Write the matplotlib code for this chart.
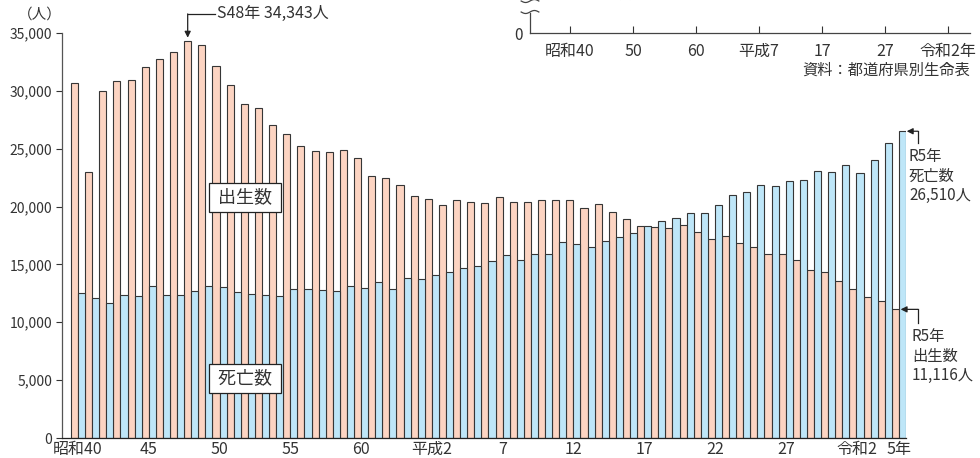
import matplotlib
matplotlib.use("Agg")
import matplotlib.pyplot as plt
import numpy as np

plt.rcParams['font.family'] = ['Noto Sans CJK JP', 'DejaVu Sans']

# 昭和40年(1965)〜令和5年(2023)
years = list(range(1965, 2024))
births = [30660, 22960, 29970, 30830, 30970, 32040, 32760, 33360, 34343, 33940,
          32150, 30540, 28900, 28520, 27080, 26300, 25260, 24800, 24720,
          24890, 24170, 22620, 22500, 21890, 20940, 20660, 20110, 20600, 20400,
          20310, 20830, 20400, 20420, 20540, 20570, 20570, 19900, 20250, 19530,
          18950, 18350, 18210,
          18120, 18410, 17780, 17230, 17490, 16880, 16510, 15880, 15880, 15410,
          14520, 14370, 13570, 12850, 12160, 11840, 11116]
deaths = [12560, 12070, 11700, 12360, 12300, 13110, 12330, 12390, 12680, 13110,
          13020, 12590, 12470, 12360, 12270, 12900, 12880, 12770,
          12710, 13110, 13000, 13470, 12880, 13830, 13770, 14060, 14370, 14720,
          14890, 15320, 15790, 15360, 15930, 15880, 16910, 16740, 16480, 17030,
          17350, 17720, 18300, 18790,
          18990, 19470, 19420, 20160, 21000, 21240, 21890, 21810, 22190, 22270,
          23050, 22960, 23600, 22880, 24000, 25520, 26510]

tick_years = [1965, 1970, 1975, 1980, 1985, 1990, 1995, 2000, 2005, 2010, 2015, 2020, 2023]
tick_labels = ['昭和40', '45', '50', '55', '60', '平成2', '7', '12', '17', '22', '27', '令和2', '5年']

inset_labels = ['昭和40', '50', '60', '平成7', '17', '27', '令和2年']

PINK = '#fcd4c2'
BLUE = '#bee6f8'
EDGE = '#363636'
TXT = '#333333'

fig = plt.figure(figsize=(9.8, 4.58), dpi=100)
W, H = 980, 458
ax = fig.add_axes([62 / W, 20 / H, (906 - 62) / W, (438 - 33) / H])

x = np.array(years)
ax.bar(x - 0.25, births, width=0.5, color=PINK, edgecolor=EDGE, linewidth=0.8, zorder=2)
ax.bar(x + 0.25, deaths, width=0.5, color=BLUE, edgecolor=EDGE, linewidth=0.8, zorder=2)

ax.set_xlim(1965 - 1.13, 2023.5)
ax.set_ylim(0, 35000)
ax.set_yticks(range(0, 35001, 5000))
ax.set_yticklabels([f'{v:,}' for v in range(0, 35001, 5000)])
ax.set_xticks(tick_years)
ax.set_xticklabels(tick_labels)
ax.tick_params(axis='y', direction='out', length=4, width=0.8, colors=TXT,
               labelsize=10, pad=3)
ax.tick_params(axis='x', length=0, labelsize=11.5, colors=TXT, pad=2)
for s in ['top', 'right']:
    ax.spines[s].set_visible(False)
ax.spines['left'].set_color('#555555')
ax.spines['bottom'].set_color('#222222')
ax.spines['left'].set_linewidth(0.9)
ax.spines['bottom'].set_linewidth(0.9)

fig.text(18 / W, 1 - 15 / H, '（人）', fontsize=10.5, color=TXT, va='center', ha='left')

# series labels
box = dict(boxstyle='square,pad=0.3', facecolor='white', edgecolor='#222222', linewidth=0.9)
ax.text(1976.8, 20780, ' 出生数 ', fontsize=13, color=TXT, ha='center', va='center',
        bbox=box, zorder=5)
ax.text(1976.8, 5150, ' 死亡数 ', fontsize=13, color=TXT, ha='center', va='center',
        bbox=box, zorder=5)

arrow = dict(arrowstyle='-|>', color='#222222', lw=0.9, mutation_scale=9,
             shrinkA=0, shrinkB=0)

# S48 peak
peak = births[years.index(1973)]
ax.annotate('', xy=(1972.75, peak + 250), xytext=(1972.75, 36650),
            arrowprops=arrow, annotation_clip=False)
ax.plot([1972.75, 1974.69], [36650, 36650], color='#222222', lw=0.9, clip_on=False)
ax.text(1974.85, 36650, f'S48年 {peak:,}人', fontsize=11.5, color=TXT,
        ha='left', va='center', clip_on=False)

# R5 deaths
d5 = deaths[-1]
ax.annotate('', xy=(2023.55, d5), xytext=(2024.34, d5), arrowprops=arrow,
            annotation_clip=False)
ax.plot([2024.34, 2024.34], [d5, 25500], color='#222222', lw=0.9, clip_on=False)
ax.text(2023.71, 25060, f'R5年\n死亡数\n{d5:,}人', fontsize=11, color=TXT,
        ha='left', va='top', linespacing=1.2, clip_on=False)

# R5 births
b5 = births[-1]
ax.annotate('', xy=(2023.12, b5), xytext=(2024.34, b5), arrowprops=arrow,
            annotation_clip=False)
ax.plot([2024.34, 2024.34], [b5, 9940], color='#222222', lw=0.9, clip_on=False)
ax.text(2023.92, 9510, f'R5年\n出生数\n{b5:,}人', fontsize=11, color=TXT,
        ha='left', va='top', linespacing=1.2, clip_on=False)

# small chart at top right (cut off by the figure edge)
inset = fig.add_axes([530 / W, 1 - 33 / H, 440 / W, 60 / H])
inset.set_xlim(-40 / 63, 400 / 63)
inset.set_ylim(0, 60)
inset.set_facecolor('none')
for s in ['top', 'right', 'left']:
    inset.spines[s].set_visible(False)
inset.spines['bottom'].set_color('#444444')
inset.spines['bottom'].set_linewidth(0.9)
inset.set_xticks(range(len(inset_labels)))
inset.set_xticklabels(inset_labels)
inset.tick_params(axis='x', direction='in', length=5, width=0.8, colors=TXT,
                  labelsize=11.5, pad=7)
inset.set_yticks([0])
inset.set_yticklabels(['0'])
inset.tick_params(axis='y', length=0, labelsize=11, colors=TXT, pad=5)
x0 = -40 / 63
inset.plot([x0, x0], [0, 20], color='#444444', lw=0.9, clip_on=False)
wx = np.linspace(x0 - 0.14, x0 + 0.14, 40)
for base in (21, 32):
    inset.plot(wx, base + 1.5 * np.sin((wx - x0) / 0.14 * np.pi), color='#444444',
               lw=0.9, clip_on=False)
inset.text(64 / 63, 30, '男性', fontsize=11.5, color=TXT, ha='center', va='bottom')

fig.text(970 / W, 1 - 70 / H, '資料：都道府県別生命表', fontsize=11, color=TXT,
         ha='right', va='center')

fig.savefig('out.png', dpi=100)
